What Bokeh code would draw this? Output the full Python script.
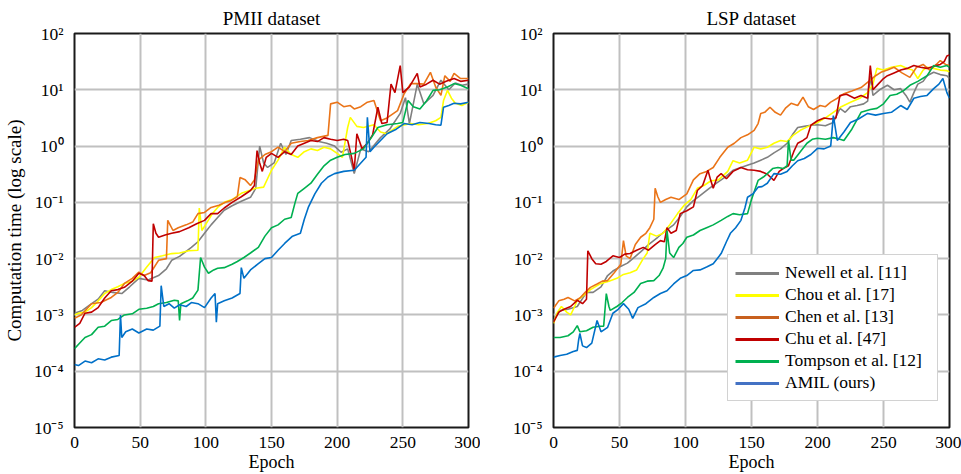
from bokeh.plotting import figure
from bokeh.layouts import row
from bokeh.models import Range1d, FixedTicker, CustomJSTickFormatter, Legend, LegendItem
from bokeh.embed import file_html
from bokeh.resources import INLINE

FONT = "Liberation Serif"

# Series names (legend order) and colours
SERIES = ["Newell et al. [11]", "Chou et al. [17]", "Chen et al. [13]",
          "Chu et al. [47]", "Tompson et al. [12]", "AMIL (ours)"]
LINE_COLORS = ["#808080", "#ffff00", "#ea7418", "#c00000", "#00b050", "#0070c8"]
LEGEND_COLORS = ["#808080", "#ffff00", "#c8601e", "#c00000", "#00b050", "#4472c4"]

X_TICKS = [0, 50, 100, 150, 200, 250, 300]
Y_TICKS = [1e-5, 1e-4, 1e-3, 1e-2, 1e-1, 1e0, 1e1, 1e2]

# ---- PMII dataset: (epoch, log10 computation time) ----
PMII_NEWELL = [(0,-2.97),(6,-2.92),(13,-2.8),(18,-2.72),(23,-2.57),(29,-2.6),(36,-2.62),(42,-2.5),(49,-2.35),
    (56,-2.38),(64,-2.3),(70,-2.18),(74,-2.03),(80,-1.96),(89,-1.8),(94,-1.7),(99,-1.55),(104,-1.4),(109,-1.27),
    (114,-1.14),(120,-1.06),(127,-0.98),(134,-0.91),(138,-0.75),(141,0.0),(144,-0.3),(147,-0.38),(152,-0.3),
    (157,0.05),(161,-0.15),(165,0.1),(172,0.12),(179,0.15),(186,0.08),(192,0.05),(198,0.0),(203,-0.11),(208,-0.05),
    (213,-0.49),(218,-0.05),(224,-0.1),(233,0.15),(240,0.3),(248,0.58),(252,0.86),(255,0.4),(261,1.1),(266,0.75),
    (273,0.9),(279,1.17),(285,1.0),(290,1.12),(295,1.08),(300,1.1)]
PMII_CHOU = [(0,-3.0),(3,-2.97),(8,-2.95),(13,-2.87),(18,-2.75),(23,-2.62),(28,-2.55),(33,-2.5),(38,-2.44),
    (44,-2.4),(49,-2.33),(55,-2.15),(61,-1.98),(67,-1.95),(74,-1.91),(80,-1.9),(87,-1.86),(94,-1.85),(95,-1.1),
    (97,-1.5),(101,-1.35),(105,-1.2),(109,-1.09),(114,-1.0),(120,-0.95),(127,-0.84),(132,-0.8),(138,-0.75),
    (144,-0.73),(150,-0.43),(155,-0.25),(160,-0.02),(165,-0.15),(170,-0.2),(175,-0.1),(180,-0.05),(185,-0.08),
    (190,-0.02),(195,-0.05),(200,-0.13),(204,-0.2),(208,0.33),(210,0.51),(215,0.35),(220,0.33),(228,0.38),
    (233,0.25),(238,0.22),(246,0.35),(256,0.4),(262,0.38),(269,0.4),(275,0.45),(279,0.51),(281,0.81),(284,0.99),
    (287,0.85),(290,0.76),(295,0.72),(300,0.78)]
PMII_CHEN = [(0,-3.06),(5,-3.0),(13,-2.8),(20,-2.78),(28,-2.69),(33,-2.6),(38,-2.44),(44,-2.35),(49,-2.24),
    (53,-2.3),(58,-2.25),(64,-2.03),(70,-2.0),(71,-1.32),(75,-1.5),(79,-1.45),(85,-1.4),(90,-1.35),(94,-1.2),
    (99,-1.18),(104,-1.09),(110,-1.05),(115,-1.0),(119,-0.97),(124,-0.9),(126,-0.56),(130,-0.6),(134,-0.7),
    (137,-0.6),(140,-0.25),(145,-0.15),(150,-0.1),(155,-0.02),(160,-0.1),(165,0.05),(172,0.08),(178,0.1),
    (185,0.15),(193,0.19),(195,0.75),(200,0.78),(205,0.7),(210,0.72),(213,0.66),(218,0.7),(223,0.78),(228,0.81),
    (233,0.45),(238,0.5),(246,0.63),(251,0.93),(256,1.11),(261,1.11),(266,1.1),(271,1.31),(275,1.05),(279,0.9),
    (282,1.25),(286,1.15),(289,1.29),(294,1.2),(300,1.2)]
PMII_CHU = [(0,-3.22),(4,-3.15),(8,-2.97),(13,-2.95),(18,-2.87),(23,-2.7),(28,-2.57),(33,-2.55),(38,-2.51),
    (44,-2.4),(49,-2.26),(53,-2.3),(56,-2.39),(59,-2.4),(60,-1.38),(62,-1.55),(64,-1.62),(69,-1.58),(74,-1.55),
    (80,-1.52),(87,-1.45),(93,-1.38),(99,-1.32),(104,-1.2),(109,-1.2),(114,-1.1),(120,-1.0),(127,-0.9),(134,-0.79),
    (137,-0.7),(139,-0.08),(141,-0.3),(143,-0.45),(146,-0.2),(150,-0.13),(155,-0.2),(160,-0.1),(165,-0.15),
    (170,0.0),(175,0.05),(180,0.1),(185,0.08),(190,0.15),(195,0.12),(200,0.1),(205,0.12),(208,0.1),(211,-0.2),
    (213,-0.43),(215,0.22),(219,-0.05),(223,0.05),(227,0.2),(231,0.69),(234,0.4),(238,0.42),(241,1.1),(244,0.95),
    (248,1.43),(250,0.95),(255,1.05),(261,1.29),(263,1.05),(268,1.1),(273,1.17),(278,1.1),(283,1.15),(289,1.2),
    (294,1.15),(300,1.17)]
PMII_TOMPSON = [(0,-3.6),(4,-3.5),(8,-3.4),(13,-3.35),(18,-3.22),(23,-3.2),(28,-3.1),(33,-3.08),(38,-3.0),
    (44,-2.98),(49,-2.9),(55,-2.88),(60,-2.85),(64,-2.8),(70,-2.78),(76,-2.74),(79,-2.75),(80,-3.1),(81,-2.8),
    (86,-2.75),(90,-2.7),(94,-2.56),(96,-1.98),(99,-2.15),(102,-2.26),(106,-2.2),(109,-2.17),(114,-2.16),
    (120,-2.1),(124,-2.05),(129,-1.98),(134,-1.9),(140,-1.8),(145,-1.6),(150,-1.45),(155,-1.4),(160,-1.3),
    (165,-1.27),(168,-1.0),(170,-0.84),(175,-0.75),(180,-0.66),(185,-0.5),(190,-0.35),(195,-0.25),(200,-0.2),
    (206,-0.15),(213,-0.13),(220,-0.05),(226,0.15),(231,0.33),(238,0.38),(246,0.4),(250,0.42),(254,0.81),
    (258,0.7),(263,0.66),(268,0.8),(273,0.99),(278,1.0),(284,1.05),(289,1.11),(294,1.08),(300,1.02)]
PMII_AMIL = [(0,-3.88),(3,-3.9),(8,-3.82),(13,-3.85),(18,-3.78),(23,-3.8),(28,-3.75),(34,-3.72),(35,-3.0),
    (36,-3.4),(39,-3.3),(44,-3.25),(49,-3.32),(55,-3.25),(60,-3.27),(65,-3.2),(66,-2.48),(68,-2.85),(72,-2.8),
    (76,-2.88),(80,-2.82),(85,-2.85),(89,-2.78),(94,-2.8),(99,-2.87),(104,-2.7),(107,-2.62),(108,-3.13),
    (109,-2.8),(114,-2.75),(120,-2.7),(126,-2.62),(127,-2.16),(129,-2.35),(134,-2.2),(140,-2.09),(145,-2.0),
    (150,-1.98),(155,-1.85),(160,-1.73),(166,-1.6),(172,-1.55),(175,-1.3),(178,-1.09),(183,-0.85),(188,-0.66),
    (193,-0.55),(198,-0.49),(205,-0.45),(213,-0.43),(218,-0.3),(222,-0.2),(223,0.51),(225,-0.1),(228,-0.02),
    (233,0.1),(238,0.22),(245,0.3),(251,0.4),(257,0.38),(263,0.42),(270,0.4),(275,0.38),(279,0.37),(281,0.69),
    (285,0.72),(289,0.76),(294,0.75),(300,0.78)]

# ---- LSP dataset ----
LSP_NEWELL = [(0,-3.1),(5,-2.92),(11,-2.9),(18,-2.85),(25,-2.6),(30,-2.6),(36,-2.5),(41,-2.3),(45,-2.22),
    (50,-2.15),(56,-2.08),(61,-1.98),(66,-1.88),(72,-1.75),(79,-1.62),(85,-1.5),(91,-1.4),(96,-1.25),(101,-1.08),
    (106,-0.97),(111,-0.88),(118,-0.75),(124,-0.65),(130,-0.55),(136,-0.43),(142,-0.38),(148,-0.33),(152,-0.3),
    (157,-0.25),(162,-0.2),(167,-0.12),(172,-0.05),(177,0.05),(181,0.2),(185,0.33),(190,0.35),(195,0.37),
    (200,0.38),(206,0.36),(212,0.42),(217,0.67),(221,0.6),(225,0.7),(230,0.72),(235,0.75),(238,0.8),(240,1.25),
    (242,0.9),(247,1.0),(253,1.08),(258,1.0),(263,1.02),(267,0.9),(270,0.78),(273,0.95),(276,1.1),(280,1.15),
    (283,1.25),(288,1.31),(293,1.27),(298,1.25),(300,1.2)]
LSP_CHOU = [(0,-3.15),(3,-2.95),(6,-2.85),(10,-2.95),(13,-3.0),(16,-2.85),(18,-2.74),(23,-2.65),(28,-2.55),
    (36,-2.44),(42,-2.4),(48,-2.35),(53,-2.28),(58,-2.25),(63,-2.2),(68,-2.0),(71,-1.9),(73,-1.55),(78,-1.6),
    (83,-1.55),(88,-1.4),(94,-1.2),(99,-1.05),(104,-0.95),(109,-0.75),(114,-0.7),(119,-0.62),(125,-0.6),
    (132,-0.45),(136,-0.26),(141,-0.3),(147,-0.25),(152,-0.02),(157,-0.05),(162,-0.02),(167,0.05),(172,0.1),
    (177,0.08),(182,0.2),(187,0.28),(193,0.35),(200,0.42),(206,0.5),(212,0.6),(218,0.7),(225,0.78),(232,0.85),
    (238,0.95),(242,1.1),(245,1.38),(250,1.35),(256,1.4),(263,1.43),(268,1.38),(272,1.35),(276,1.2),(280,1.35),
    (283,1.4),(288,1.38),(293,1.35),(298,1.34),(300,1.32)]
LSP_CHEN = [(0,-2.88),(4,-2.75),(8,-2.72),(11,-2.69),(16,-2.75),(20,-2.7),(24,-2.6),(28,-2.51),(33,-2.45),
    (37,-2.4),(41,-2.39),(46,-2.25),(51,-2.1),(53,-1.68),(55,-1.95),(58,-2.0),(62,-1.75),(66,-1.62),(70,-1.55),
    (73,-1.45),(76,-1.3),(77,-0.75),(79,-0.9),(81,-1.0),(85,-0.95),(89,-0.91),(95,-0.95),(101,-0.85),(106,-0.6),
    (111,-0.49),(116,-0.45),(121,-0.38),(126,-0.2),(132,-0.02),(137,0.05),(142,0.15),(147,0.2),(152,0.28),
    (155,0.4),(157,0.58),(160,0.6),(164,0.69),(168,0.6),(172,0.55),(176,0.68),(180,0.76),(185,0.72),(189,0.87),
    (193,0.7),(197,0.65),(202,0.72),(206,0.7),(210,0.78),(215,0.85),(220,0.93),(226,0.98),(233,1.04),(240,1.17),
    (244,1.25),(248,1.31),(253,1.35),(258,1.4),(264,1.3),(270,1.22),(275,1.4),(280,1.45),(285,1.35),(290,1.45),
    (293,1.52),(297,1.45),(300,1.43)]
LSP_CHU = [(0,-3.13),(4,-2.95),(8,-2.9),(13,-2.85),(18,-2.74),(22,-2.8),(25,-2.72),(26,-1.86),(29,-2.0),
    (32,-2.09),(36,-2.1),(40,-2.05),(45,-1.95),(50,-1.98),(54,-1.92),(58,-1.91),(63,-1.85),(68,-1.8),(72,-1.85),
    (77,-1.75),(81,-1.68),(84,-1.7),(86,-1.45),(89,-1.55),(93,-1.5),(96,-1.2),(101,-1.15),(106,-1.08),(109,-0.79),
    (113,-0.7),(117,-0.43),(119,-0.6),(121,-0.75),(124,-0.55),(127,-0.49),(131,-0.58),(136,-0.45),(142,-0.38),
    (147,-0.42),(152,-0.43),(157,-0.45),(162,-0.5),(167,-0.61),(171,-0.45),(174,-0.4),(178,-0.35),(182,-0.1),
    (185,0.05),(189,0.1),(192,0.15),(195,0.37),(200,0.45),(205,0.5),(210,0.48),(214,0.5),(217,0.9),(222,0.92),
    (228,0.85),(233,0.9),(238,0.85),(240,1.43),(242,1.0),(246,1.1),(250,1.2),(253,1.25),(258,1.3),(263,1.35),
    (268,1.38),(273,1.43),(278,1.4),(283,1.38),(288,1.42),(293,1.45),(296,1.5),(298,1.6),(300,1.62)]
LSP_TOMPSON = [(0,-3.4),(5,-3.4),(11,-3.37),(15,-3.3),(18,-3.19),(20,-3.3),(25,-3.28),(30,-3.22),(35,-3.2),
    (38,-3.2),(40,-2.62),(42,-2.85),(43,-2.92),(48,-2.85),(52,-2.78),(56,-2.69),(61,-2.6),(66,-2.44),(71,-2.4),
    (76,-2.39),(80,-2.3),(83,-2.17),(85,-2.0),(86,-1.5),(88,-1.9),(91,-1.98),(95,-1.8),(98,-1.73),(101,-1.62),
    (106,-1.58),(111,-1.5),(116,-1.45),(121,-1.4),(127,-1.32),(132,-1.25),(136,-1.2),(141,-1.22),(147,-1.2),
    (150,-0.95),(155,-0.61),(159,-0.55),(162,-0.49),(166,-0.4),(170,-0.38),(174,-0.4),(177,-0.35),(178,0.1),
    (180,-0.25),(182,-0.25),(187,-0.1),(192,0.05),(196,0.12),(200,0.14),(206,0.12),(212,0.15),(217,0.12),
    (220,0.1),(226,0.3),(233,0.6),(240,0.65),(245,0.67),(250,0.75),(255,0.9),(260,0.92),(265,0.98),(270,1.08),
    (276,1.15),(283,1.25),(288,1.43),(293,1.4),(298,1.43),(300,1.4)]
LSP_AMIL = [(0,-3.75),(5,-3.72),(10,-3.7),(15,-3.65),(18,-3.63),(19,-3.45),(20,-3.33),(22,-3.55),(25,-3.58),
    (29,-3.5),(33,-3.1),(36,-3.3),(41,-3.22),(45,-2.97),(49,-2.9),(53,-2.8),(57,-2.9),(60,-3.06),(64,-2.87),
    (70,-2.8),(76,-2.69),(81,-2.62),(86,-2.57),(91,-2.45),(96,-2.35),(101,-2.3),(106,-2.21),(111,-2.2),
    (116,-2.15),(121,-2.09),(124,-2.0),(127,-1.91),(131,-1.7),(134,-1.55),(138,-1.45),(142,-1.32),(145,-1.1),
    (147,-0.91),(151,-0.85),(155,-0.73),(158,-0.72),(162,-0.66),(167,-0.49),(172,-0.5),(177,-0.45),(181,-0.35),
    (185,-0.26),(190,-0.22),(195,-0.15),(200,-0.04),(205,-0.05),(210,0.0),(212,0.54),(215,0.1),(220,0.25),
    (225,0.42),(231,0.48),(238,0.58),(244,0.55),(250,0.58),(256,0.6),(263,0.72),(268,0.65),(273,0.85),(278,0.88),
    (283,0.9),(288,1.02),(292,1.1),(295,1.2),(298,0.95),(300,0.85)]

PMII = [PMII_NEWELL, PMII_CHOU, PMII_CHEN, PMII_CHU, PMII_TOMPSON, PMII_AMIL]
LSP = [LSP_NEWELL, LSP_CHOU, LSP_CHEN, LSP_CHU, LSP_TOMPSON, LSP_AMIL]

FMT = CustomJSTickFormatter(code="""
const e = Math.round(Math.log10(tick));
const sup = {"-": "\u207b", "0": "\u2070", "1": "\u00b9", "2": "\u00b2", "3": "\u00b3",
             "4": "\u2074", "5": "\u2075", "6": "\u2076"};
return "10" + String(e).split("").map(c => sup[c]).join("");
""")


def make_panel(title, series, width, border_left, border_right, ylabel):
    p = figure(width=width, height=474, x_range=Range1d(0, 300), y_range=Range1d(1e-5, 1e2),
               y_axis_type="log", output_backend="svg", toolbar_location=None,
               min_border_left=border_left, min_border_right=border_right,
               min_border_top=33, min_border_bottom=47, title=title)
    p.title.text_font = FONT
    p.title.text_font_size = "19px"
    p.title.text_font_style = "normal"
    p.title.text_color = "black"
    p.title.align = "center"
    p.title.standoff = 10
    p.title.offset = 0
    p.outline_line_color = "#1a1a1a"
    p.outline_line_width = 2
    p.background_fill_color = "white"
    p.border_fill_color = "white"

    p.xaxis.ticker = FixedTicker(ticks=X_TICKS)
    p.yaxis.ticker = FixedTicker(ticks=Y_TICKS)
    p.yaxis.formatter = FMT
    for ax in (p.xaxis[0], p.yaxis[0]):
        ax.axis_line_color = None
        ax.major_tick_line_color = None
        ax.minor_tick_line_color = None
        ax.major_label_text_font = FONT
        ax.major_label_text_font_size = "17.5px"
        ax.major_label_text_color = "black"
        ax.axis_label_text_font = FONT
        ax.axis_label_text_font_style = "normal"
        ax.axis_label_text_color = "black"
    p.xaxis.major_label_standoff = 3
    p.yaxis.major_label_standoff = 5
    p.xaxis.axis_label = "Epoch"
    p.xaxis.axis_label_text_font_size = "18px"
    p.xaxis.axis_label_standoff = 1
    if ylabel:
        p.yaxis.axis_label = ylabel
        p.yaxis.axis_label_text_font_size = "19px"
        p.yaxis.axis_label_standoff = 6

    for g in (p.xgrid, p.ygrid):
        g.grid_line_color = "#c0c0c0"
        g.grid_line_width = 2
        g.grid_line_alpha = 1

    for pts, col in zip(series, LINE_COLORS):
        xs = [e for e, _ in pts]
        ys = [10 ** v for _, v in pts]
        p.line(xs, ys, line_color=col, line_width=1.6)
    return p


p1 = make_panel("PMII dataset", PMII, 480, 73, 12, "Computation time (log scale)")
p2 = make_panel("LSP dataset", LSP, 481, 73, 12, None)

items = []
for name, col in zip(SERIES, LEGEND_COLORS):
    r = p2.line(x=[float("nan")], y=[float("nan")], line_color=col, line_width=3)
    items.append(LegendItem(label=name, renderers=[r]))
legend = Legend(items=items, location=(174, 26), margin=0, padding=7, spacing=1,
                glyph_width=44, glyph_height=20, label_height=20, label_standoff=6,
                label_width=145,
                label_text_font=FONT, label_text_font_size="17.5px", label_text_color="black",
                border_line_color="#a6a6a6", border_line_width=1,
                background_fill_color="white", background_fill_alpha=1)
p2.add_layout(legend)

layout = row(p1, p2)
with open("out.html", "w", encoding="utf-8") as f:
    f.write(file_html(layout, INLINE))
